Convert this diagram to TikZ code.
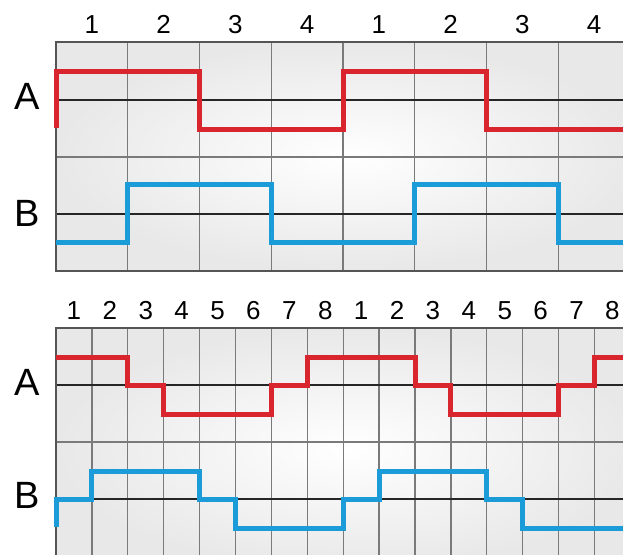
\documentclass[tikz,border=0pt]{standalone}
\usepackage{fontspec}
\setmainfont{Liberation Sans}
\definecolor{sigred}{HTML}{D9262E}
\definecolor{sigblue}{HTML}{1B9BD7}
\definecolor{gridc}{HTML}{7A7A7A}
\definecolor{borderc}{HTML}{555555}
\begin{document}
\begin{tikzpicture}[x=1pt,y=-1pt,
  gridline/.style={gridc,line width=1.3pt},
  borderline/.style={borderc,line width=1.8pt},
  axisline/.style={black!85,line width=2pt},
  redsig/.style={sigred,line width=5pt,line join=miter},
  bluesig/.style={sigblue,line width=5pt,line join=miter},
  numlabel/.style={font=\fontsize{26}{26}\selectfont,inner sep=0pt,anchor=base},
  chlabel/.style={font=\fontsize{38}{38}\selectfont,inner sep=0pt,anchor=base}]
\useasboundingbox (0,0) rectangle (623,554);
\fill[white] (0,0) rectangle (623,554);
% ---------- top panel ----------
\begin{scope}
\clip (0,0) rectangle (623,554);
\shade[inner color=white, outer color=black!9] (56,42) rectangle (640,271);
\foreach \i in {1,...,8} \draw[gridline] ({56+71.75*\i},42) -- ({56+71.75*\i},271);
\draw[gridline] (56,157) -- (640,157);
\draw[axisline] (56,100) -- (640,100);
\draw[axisline] (56,214) -- (640,214);
\draw[borderline] (640,42) -- (56,42) -- (56,271) -- (640,271);
\draw[redsig] (56,128) -- (56,71) -- (199.5,71) -- (199.5,129) -- (343,129) -- (343,71) -- (486.5,71) -- (486.5,129) -- (640,129);
\draw[bluesig] (56,242) -- (127.75,242) -- (127.75,184) -- (271.25,184) -- (271.25,242) -- (414.75,242) -- (414.75,184) -- (558.25,184) -- (558.25,242) -- (640,242);
% ---------- bottom panel ----------
\shade[inner color=white, outer color=black!9] (56,328) rectangle (640,570);
\foreach \i in {1,...,16} \draw[gridline] ({56+35.9*\i},328) -- ({56+35.9*\i},570);
\draw[gridline] (56,442) -- (640,442);
\draw[axisline] (56,385) -- (640,385);
\draw[axisline] (56,499) -- (640,499);
\draw[borderline] (640,328) -- (56,328) -- (56,570);
\draw[redsig] (56,357) -- (127.8,357) -- (127.8,385) -- (163.7,385) -- (163.7,414) -- (271.4,414) -- (271.4,385) -- (307.3,385) -- (307.3,357) -- (415,357) -- (415,385) -- (450.9,385) -- (450.9,414) -- (558.6,414) -- (558.6,385) -- (594.5,385) -- (594.5,357) -- (640,357);
\draw[bluesig] (56,527) -- (56,499) -- (91.9,499) -- (91.9,471) -- (199.6,471) -- (199.6,499) -- (235.5,499) -- (235.5,528) -- (343.2,528) -- (343.2,499) -- (379.1,499) -- (379.1,471) -- (486.8,471) -- (486.8,499) -- (522.7,499) -- (522.7,528) -- (640,528);
\end{scope}
% ---------- labels ----------
\node[chlabel] (atop) at (27,109) {A};
\node[chlabel] (btop) at (27,226) {B};
\node[chlabel] (abot) at (27,395) {A};
\node[chlabel] (bbot) at (27,508) {B};
\foreach \n [count=\i] in {1,2,3,4,1,2,3,4}
  \node[numlabel] (t\i) at ({56+71.75*(\i-0.5)},33) {\n};
\foreach \n [count=\i] in {1,2,3,4,5,6,7,8,1,2,3,4,5,6,7,8}
  \node[numlabel] (b\i) at ({56+35.9*(\i-0.5)},319) {\n};
\end{tikzpicture}
\end{document}
